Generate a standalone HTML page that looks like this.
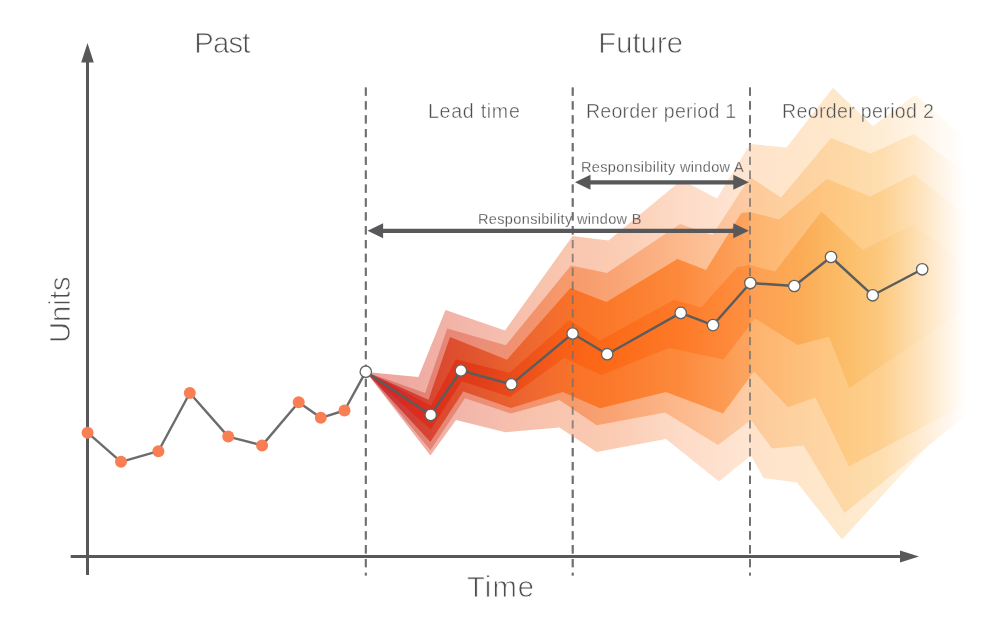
<!DOCTYPE html>
<html><head><meta charset="utf-8"><title>Probabilistic forecast</title>
<style>
html,body{margin:0;padding:0;background:#fff;}
body{width:1000px;height:619px;overflow:hidden;font-family:"Liberation Sans",sans-serif;}
svg{display:block;}
svg text{font-family:"Liberation Sans",sans-serif;}
</style></head><body>
<svg width="1000" height="619" viewBox="0 0 1000 619">
<defs><linearGradient id="g1" gradientUnits="userSpaceOnUse" x1="366" y1="0" x2="750" y2="0"><stop offset="0" stop-color="#eea39c"/><stop offset="0.09" stop-color="#efa8a0"/><stop offset="0.31" stop-color="#f4bbad"/><stop offset="0.45" stop-color="#f8c3ad"/><stop offset="0.64" stop-color="#fbcbb2"/><stop offset="0.82" stop-color="#fddbc7"/><stop offset="1" stop-color="#fee6d3"/></linearGradient><linearGradient id="g2" gradientUnits="userSpaceOnUse" x1="366" y1="0" x2="750" y2="0"><stop offset="0" stop-color="#dc7370"/><stop offset="0.09" stop-color="#e07c72"/><stop offset="0.31" stop-color="#ec8f78"/><stop offset="0.45" stop-color="#f3946c"/><stop offset="0.54" stop-color="#f79b6b"/><stop offset="0.64" stop-color="#f9a373"/><stop offset="0.82" stop-color="#fcb98c"/><stop offset="1" stop-color="#fdcca6"/></linearGradient><linearGradient id="g3" gradientUnits="userSpaceOnUse" x1="366" y1="0" x2="750" y2="0"><stop offset="0" stop-color="#c42d33"/><stop offset="0.09" stop-color="#cd3c39"/><stop offset="0.2" stop-color="#dc4a2f"/><stop offset="0.31" stop-color="#e3592e"/><stop offset="0.45" stop-color="#f06a30"/><stop offset="0.54" stop-color="#f97228"/><stop offset="0.64" stop-color="#fb792a"/><stop offset="0.82" stop-color="#fc8a3c"/><stop offset="1" stop-color="#fca560"/></linearGradient><linearGradient id="g4" gradientUnits="userSpaceOnUse" x1="366" y1="0" x2="750" y2="0"><stop offset="0" stop-color="#c1272d"/><stop offset="0.09" stop-color="#d82a24"/><stop offset="0.2" stop-color="#de3219"/><stop offset="0.31" stop-color="#e2401a"/><stop offset="0.45" stop-color="#f0561a"/><stop offset="0.54" stop-color="#fa6317"/><stop offset="0.64" stop-color="#fc6a18"/><stop offset="0.82" stop-color="#fd7a28"/><stop offset="1" stop-color="#fd9142"/></linearGradient><linearGradient id="h1" gradientUnits="userSpaceOnUse" x1="750" y1="0" x2="970" y2="0"><stop offset="0" stop-color="#fee3ca"/><stop offset="0.23" stop-color="#fee6cb"/><stop offset="0.45" stop-color="#fee9cc"/><stop offset="0.6" stop-color="#feedd5"/><stop offset="0.75" stop-color="#fff4e5"/><stop offset="0.9" stop-color="#fffbf6"/><stop offset="0.98" stop-color="#ffffff"/></linearGradient><linearGradient id="h2" gradientUnits="userSpaceOnUse" x1="750" y1="0" x2="970" y2="0"><stop offset="0" stop-color="#fdca9a"/><stop offset="0.23" stop-color="#fdd2a1"/><stop offset="0.45" stop-color="#fdd9a6"/><stop offset="0.6" stop-color="#fedeb0"/><stop offset="0.75" stop-color="#fee9cb"/><stop offset="0.9" stop-color="#fff7ee"/><stop offset="0.98" stop-color="#ffffff"/></linearGradient><linearGradient id="h3" gradientUnits="userSpaceOnUse" x1="750" y1="0" x2="970" y2="0"><stop offset="0" stop-color="#fdb26c"/><stop offset="0.23" stop-color="#fdc07c"/><stop offset="0.45" stop-color="#fdcb85"/><stop offset="0.6" stop-color="#fdd090"/><stop offset="0.75" stop-color="#fee1b6"/><stop offset="0.9" stop-color="#fff4e6"/><stop offset="0.98" stop-color="#ffffff"/></linearGradient><linearGradient id="h4" gradientUnits="userSpaceOnUse" x1="750" y1="0" x2="970" y2="0"><stop offset="0" stop-color="#fd9e52"/><stop offset="0.23" stop-color="#fcab55"/><stop offset="0.45" stop-color="#fbbf6b"/><stop offset="0.6" stop-color="#fcc97f"/><stop offset="0.75" stop-color="#fddeb0"/><stop offset="0.9" stop-color="#fff2e2"/><stop offset="0.98" stop-color="#ffffff"/></linearGradient><clipPath id="cL"><rect x="0" y="0" width="750" height="619"/></clipPath><clipPath id="cR"><rect x="750" y="0" width="250" height="619"/></clipPath></defs>
<rect width="1000" height="619" fill="#fff"/>
<line x1="365.8" y1="87.4" x2="365.8" y2="575.5" stroke="#707070" stroke-width="1.9" stroke-dasharray="8.3 5.57"/>
<line x1="572.7" y1="87.4" x2="572.7" y2="575.5" stroke="#707070" stroke-width="1.9" stroke-dasharray="8.3 5.57"/>
<line x1="750" y1="87.4" x2="750" y2="575.5" stroke="#707070" stroke-width="1.9" stroke-dasharray="8.3 5.57"/>
<g clip-path="url(#cR)">
<polygon points="366,372 418.4,377 445.5,310 505,330.5 572.5,236 608.5,240.5 681.7,180 717,198.5 750,144 786.5,147.5 833,87.8 873,126 915,95 975,146 975,394.5 842,539.5 797,482.5 763.5,478 751,455.5 719,481.5 666,439 596.6,452 559.4,427.6 505.3,432.2 456,420 430.4,455.6" fill="url(#h1)"/>
<polygon points="366,372 425.2,393 447.2,328.6 505.8,345.2 571,265.6 607,273 680,224 712.5,235 750,177 781,197.5 831,138 870.5,153.6 914,134 975,179.5 975,408.6 844.5,513 803.5,445.5 772,448.5 751,420 718,445 665,412.5 596.6,425.3 559.4,400 511,413.6 465,398.3 430.4,450.3" fill="url(#h2)"/>
<polygon points="366,372 428.5,399.8 450,337 507,359.7 570.4,288 606.4,302 677.5,259 706,270 741.3,213 750,212 779,219.5 827,179 870,196.5 914,174.5 975,222.6 975,398.9 849,466.4 815.5,397.5 788,407.2 754,371.5 723,413.5 666,392 600,408.2 562.7,392 511,408 463.3,391.6 430.4,442" fill="url(#h3)"/>
<polygon points="366,372 431,405.5 456,359.2 509.5,372.7 569.5,320 600,340.4 674,299.7 701,307.6 737.3,267 750,265 775,271.6 821.5,211.5 863,250 913,224.5 975,271 975,302 849.2,388.2 829,336.8 797.5,345 755,318.6 723.5,359.6 669,348 601.4,375 564.3,358 510,397 461.7,381.3 430.8,429.6" fill="url(#h4)"/>
</g><g clip-path="url(#cL)">
<polygon points="366,372 418.4,377 445.5,310 505,330.5 572.5,236 608.5,240.5 681.7,180 717,198.5 750,144 786.5,147.5 833,87.8 873,126 915,95 975,146 975,394.5 842,539.5 797,482.5 763.5,478 751,455.5 719,481.5 666,439 596.6,452 559.4,427.6 505.3,432.2 456,420 430.4,455.6" fill="url(#g1)"/>
<polygon points="366,372 425.2,393 447.2,328.6 505.8,345.2 571,265.6 607,273 680,224 712.5,235 750,177 781,197.5 831,138 870.5,153.6 914,134 975,179.5 975,408.6 844.5,513 803.5,445.5 772,448.5 751,420 718,445 665,412.5 596.6,425.3 559.4,400 511,413.6 465,398.3 430.4,450.3" fill="url(#g2)"/>
<polygon points="366,372 428.5,399.8 450,337 507,359.7 570.4,288 606.4,302 677.5,259 706,270 741.3,213 750,212 779,219.5 827,179 870,196.5 914,174.5 975,222.6 975,398.9 849,466.4 815.5,397.5 788,407.2 754,371.5 723,413.5 666,392 600,408.2 562.7,392 511,408 463.3,391.6 430.4,442" fill="url(#g3)"/>
<polygon points="366,372 431,405.5 456,359.2 509.5,372.7 569.5,320 600,340.4 674,299.7 701,307.6 737.3,267 750,265 775,271.6 821.5,211.5 863,250 913,224.5 975,271 975,302 849.2,388.2 829,336.8 797.5,345 755,318.6 723.5,359.6 669,348 601.4,375 564.3,358 510,397 461.7,381.3 430.8,429.6" fill="url(#g4)"/>
</g>
<line x1="365.8" y1="87.4" x2="365.8" y2="575.5" stroke="#707070" stroke-width="1.9" stroke-dasharray="8.3 5.57" opacity="0.78"/>
<line x1="572.7" y1="87.4" x2="572.7" y2="575.5" stroke="#707070" stroke-width="1.9" stroke-dasharray="8.3 5.57" opacity="0.78"/>
<line x1="750" y1="87.4" x2="750" y2="575.5" stroke="#707070" stroke-width="1.9" stroke-dasharray="8.3 5.57" opacity="0.78"/>
<line x1="87.5" y1="60" x2="87.5" y2="575" stroke="#58585a" stroke-width="3"/>
<polygon points="87.5,43 93.8,62.6 81.2,62.6" fill="#58585a"/>
<line x1="70.7" y1="556.4" x2="902" y2="556.4" stroke="#58585a" stroke-width="3"/>
<polygon points="919,556.4 900,550.4 900,562.4" fill="#58585a"/>
<line x1="587" y1="182.3" x2="736.8" y2="182.3" stroke="#58585a" stroke-width="4.3"/><polygon points="748.8,182.3 733.3,174.8 733.3,189.8" fill="#58585a"/><polygon points="575,182.3 590.5,174.8 590.5,189.8" fill="#58585a"/>
<line x1="379.6" y1="230.8" x2="736.8" y2="230.8" stroke="#58585a" stroke-width="4.3"/><polygon points="748.8,230.8 733.3,223.3 733.3,238.3" fill="#58585a"/><polygon points="367.6,230.8 383.1,223.3 383.1,238.3" fill="#58585a"/>
<polyline points="87.6,432.7 121,461.8 158.4,451.2 189.8,393 228.2,436.6 262.1,445.4 298.7,402.3 320.8,417.8 344.5,410.5 365.8,371.7" fill="none" stroke="#6c6c6c" stroke-width="2.4" stroke-linejoin="round"/>
<circle cx="87.6" cy="432.7" r="6" fill="#f97e54"/>
<circle cx="121" cy="461.8" r="6" fill="#f97e54"/>
<circle cx="158.4" cy="451.2" r="6" fill="#f97e54"/>
<circle cx="189.8" cy="393" r="6" fill="#f97e54"/>
<circle cx="228.2" cy="436.6" r="6" fill="#f97e54"/>
<circle cx="262.1" cy="445.4" r="6" fill="#f97e54"/>
<circle cx="298.7" cy="402.3" r="6" fill="#f97e54"/>
<circle cx="320.8" cy="417.8" r="6" fill="#f97e54"/>
<circle cx="344.5" cy="410.5" r="6" fill="#f97e54"/>
<polyline points="365.8,371.7 430.7,414.9 460.9,370.5 511.3,384.3 572.6,333.5 607.2,354.2 680.7,312.9 713,325.1 750.3,283 794.3,286 831,257 872.7,295.3 922.2,269.3" fill="none" stroke="#5c5c5c" stroke-width="2.4" stroke-linejoin="round"/>
<circle cx="365.8" cy="371.7" r="5.7" fill="#fff" stroke="#626262" stroke-width="1.3"/>
<circle cx="430.7" cy="414.9" r="5.7" fill="#fff" stroke="#626262" stroke-width="1.3"/>
<circle cx="460.9" cy="370.5" r="5.7" fill="#fff" stroke="#626262" stroke-width="1.3"/>
<circle cx="511.3" cy="384.3" r="5.7" fill="#fff" stroke="#626262" stroke-width="1.3"/>
<circle cx="572.6" cy="333.5" r="5.7" fill="#fff" stroke="#626262" stroke-width="1.3"/>
<circle cx="607.2" cy="354.2" r="5.7" fill="#fff" stroke="#626262" stroke-width="1.3"/>
<circle cx="680.7" cy="312.9" r="5.7" fill="#fff" stroke="#626262" stroke-width="1.3"/>
<circle cx="713" cy="325.1" r="5.7" fill="#fff" stroke="#626262" stroke-width="1.3"/>
<circle cx="750.3" cy="283" r="5.7" fill="#fff" stroke="#626262" stroke-width="1.3"/>
<circle cx="794.3" cy="286" r="5.7" fill="#fff" stroke="#626262" stroke-width="1.3"/>
<circle cx="831" cy="257" r="5.7" fill="#fff" stroke="#626262" stroke-width="1.3"/>
<circle cx="872.7" cy="295.3" r="5.7" fill="#fff" stroke="#626262" stroke-width="1.3"/>
<circle cx="922.2" cy="269.3" r="5.7" fill="#fff" stroke="#626262" stroke-width="1.3"/>
<mask id="tm" maskUnits="userSpaceOnUse" x="0" y="0" width="1000" height="619"><rect width="1000" height="619" fill="#000"/><text x="194.3" y="52.8" font-size="29.2" fill="#fff" stroke="#000" stroke-width="0.9" stroke-linejoin="round" letter-spacing="-0.8">Past</text><text x="598.3" y="53" font-size="29.2" fill="#fff" stroke="#000" stroke-width="0.9" stroke-linejoin="round" letter-spacing="0.05">Future</text><text x="428" y="118.3" font-size="19.6" fill="#fff" stroke="#000" stroke-width="0.55" stroke-linejoin="round" letter-spacing="0.72">Lead time</text><text x="586" y="118" font-size="19.6" fill="#fff" stroke="#000" stroke-width="0.55" stroke-linejoin="round" letter-spacing="0.2">Reorder period 1</text><text x="782" y="118" font-size="19.6" fill="#fff" stroke="#000" stroke-width="0.55" stroke-linejoin="round" letter-spacing="0.33">Reorder period 2</text><text x="581" y="171.6" font-size="14.5" fill="#fff" stroke="#000" stroke-width="0.3" stroke-linejoin="round" letter-spacing="0.36">Responsibility window A</text><text x="478" y="223.6" font-size="14.5" fill="#fff" stroke="#000" stroke-width="0.3" stroke-linejoin="round" letter-spacing="0.36">Responsibility window B</text><text x="467" y="597" font-size="29.2" fill="#fff" stroke="#000" stroke-width="0.9" stroke-linejoin="round" letter-spacing="1.1">Time</text><text x="0" y="0" font-size="29.2" fill="#fff" stroke="#000" stroke-width="0.9" stroke-linejoin="round" transform="translate(70.4,343) rotate(-90)">Units</text></mask>
<rect width="1000" height="619" fill="#4d4d4f" mask="url(#tm)"/>
</svg>
</body></html>
